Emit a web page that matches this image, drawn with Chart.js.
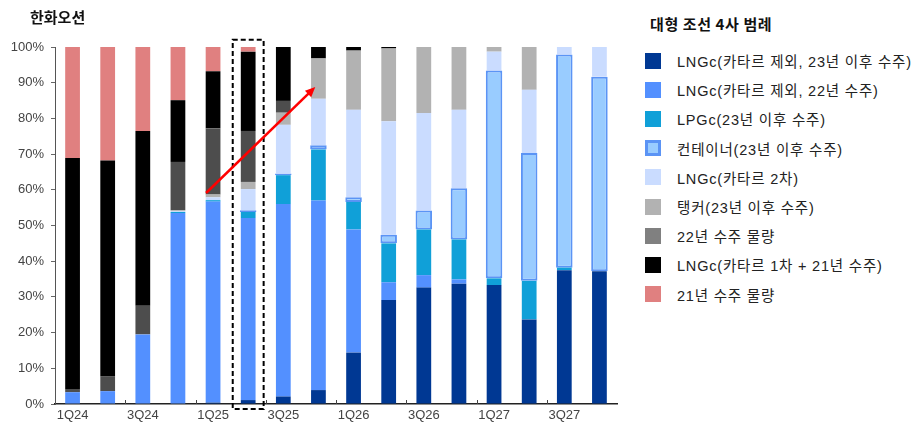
<!DOCTYPE html>
<html>
<head>
<meta charset="utf-8">
<script src="https://cdn.jsdelivr.net/npm/chart.js@4.4.1/dist/chart.umd.min.js"></script>
<style>
  html, body { margin: 0; padding: 0; background: #fff; }
  #wrap { position: relative; width: 921px; height: 430px; overflow: hidden;
          font-family: "Liberation Sans", "Noto Sans CJK KR", Arial, sans-serif; }
  #cv { position: absolute; left: 0; top: 0; }
  #title { position: absolute; left: 30px; top: 6px; font-size: 15px; font-weight: bold; color: #111;
           font-family: "Noto Sans CJK KR", sans-serif; }
  #legend { position: absolute; left: 645px; top: 12px; }
  #legend .lt { font-size: 15px; font-weight: bold; color: #111; margin-left: 5px; height: 24px; line-height: 24px;
                letter-spacing: 0.6px; font-family: "Noto Sans CJK KR", sans-serif; margin-bottom: 10px; }
  #legend .it { height: 29.2px; display: flex; align-items: center; font-size: 14.5px; color: #222;
                letter-spacing: 0.8px; white-space: nowrap;
                font-family: "Liberation Sans", "Noto Sans CJK KR", sans-serif; }
  #legend .sw { width: 16px; height: 16px; box-sizing: border-box; margin-right: 16px; flex: none; }
</style>
</head>
<body>
<div id="wrap">
  <canvas id="cv" width="621" height="430"></canvas>
  <div id="title">한화오션</div>
  <div id="legend"></div>
</div>
<script>
const quarters = ["1Q24","2Q24","3Q24","4Q24","1Q25","2Q25","3Q25","4Q25","1Q26","2Q26","3Q26","4Q26","1Q27","2Q27","3Q27","4Q27"];
const yTicks = [0,10,20,30,40,50,60,70,80,90,100];

const lng23     = [0,   0,   0,   0,   0.4, 1.1, 2.1, 3.9, 14.4, 29.1, 32.6, 33.7, 33.3, 23.7, 37.5, 37.2];
const lng22     = [3.3, 3.6, 19.5,53.5,56.3,51.0,53.9,53.1,34.5, 5.0,  3.5,  1.2,  0,    0,    0,    0];
const lpg23     = [0,   0,   0,   0.3, 0.4, 1.7, 8.1, 14.3,7.7, 10.9, 12.8, 11.2, 1.9,  10.8, 0.7,  0];
const container = [0,   0,   0,   0,   0,   0.5, 0.5, 1.2, 1.3,  2.4,  5.3,  14.3, 58.2, 35.8, 59.7, 54.5];
const qatar2    = [0,   0,   0,   0.2, 0.8, 5.9, 13.6,13.0,24.5, 31.8, 27.3, 22.0, 5.3,  17.7, 2.1,  8.3];
const tanker    = [0,   0,   0,   0.3, 0.8, 2.0, 3.4, 11.3,16.6, 20.4, 18.5, 17.6, 1.3,  12.0, 0,    0];
const orders22  = [0.9, 4.2, 8.0, 13.5,18.5,14.3,3.3, 0,   0,    0,    0,    0,    0,    0,    0,    0];
const qatar1    = [64.7,60.4,49.0,17.3,16.0,22.2,15.1,3.2, 1.0,  0.4,  0,    0,    0,    0,    0,    0];
const orders21  = [31.1,31.8,23.5,14.9,6.8, 1.3, 0,   0,   0,    0,    0,    0,    0,    0,    0,    0];

const seriesNames = [
  "LNGc(카타르 제외, 23년 이후 수주)",
  "LNGc(카타르 제외, 22년 수주)",
  "LPGc(23년 이후 수주)",
  "컨테이너(23년 이후 수주)",
  "LNGc(카타르 2차)",
  "탱커(23년 이후 수주)",
  "22년 수주 물량",
  "LNGc(카타르 1차 + 21년 수주)",
  "21년 수주 물량"
];
const seriesData = [lng23, lng22, lpg23, container, qatar2, tanker, orders22, qatar1, orders21];
const barColors = ["#003893", "#5390ff", "#10a0d8", "#99ccff", "#cadcff", "#b2b2b2", "#4d4d4d", "#000000", "#e08080"];
const legendColors = ["#003893", "#5390ff", "#10a0d8", "#99ccff", "#cadcff", "#b2b2b2", "#808080", "#000000", "#e08080"];

const datasets = seriesNames.map((name, i) => {
  const ds = {
    label: name,
    data: seriesData[i],
    backgroundColor: barColors[i],
    borderWidth: 0,
    barPercentage: 0.42,
    categoryPercentage: 1.0
  };
  if (i === 3) {
    ds.borderColor = "#5b94f5";
    ds.borderWidth = 2;
    ds.borderSkipped = false;
    ds.barPercentage = 0.47;
  }
  return ds;
});

// HTML legend
const leg = document.getElementById('legend');
const lt = document.createElement('div'); lt.className = 'lt'; lt.textContent = '대형 조선 4사 범례'; leg.appendChild(lt);
seriesNames.forEach((n, i) => {
  const it = document.createElement('div'); it.className = 'it';
  const sw = document.createElement('div'); sw.className = 'sw';
  sw.style.background = legendColors[i];
  if (i === 3) sw.style.border = '3px solid #5b94f5';
  const tx = document.createElement('span'); tx.textContent = n;
  it.appendChild(sw); it.appendChild(tx); leg.appendChild(it);
});

const annot = {
  id: 'annot',
  afterDraw(chart) {
    const x = chart.scales.x, y = chart.scales.y, ctx = chart.ctx;
    const cw = x.getPixelForValue(1) - x.getPixelForValue(0);
    ctx.save();
    // inward tick marks on x axis every two quarters
    ctx.strokeStyle = '#444'; ctx.lineWidth = 1;
    for (let i = 2; i < quarters.length; i += 2) {
      const px = Math.round(x.getPixelForValue(i) - cw / 2) + 0.5;
      ctx.beginPath(); ctx.moveTo(px, y.bottom); ctx.lineTo(px, y.bottom - 4); ctx.stroke();
    }
    // dashed highlight box around 2Q25
    const cx = x.getPixelForValue(5);
    ctx.setLineDash([5, 3]); ctx.lineWidth = 2; ctx.strokeStyle = '#000';
    const yt = y.getPixelForValue(102), yb = y.getPixelForValue(-1.4);
    ctx.strokeRect(cx - cw * 0.44, yt, cw * 0.88, yb - yt);
    ctx.setLineDash([]);
    // red arrow from 1Q25 to 4Q25
    const x1 = x.getPixelForValue(4) - cw * 0.2, y1 = y.getPixelForValue(59.1);
    const x2 = x.getPixelForValue(7) - cw * 0.09, y2 = y.getPixelForValue(88.8);
    const ang = Math.atan2(y2 - y1, x2 - x1);
    const hl = 11;
    ctx.strokeStyle = '#ff0000'; ctx.fillStyle = '#ff0000'; ctx.lineWidth = 2.5;
    ctx.beginPath(); ctx.moveTo(x1, y1);
    ctx.lineTo(x2 - hl * 0.8 * Math.cos(ang), y2 - hl * 0.8 * Math.sin(ang)); ctx.stroke();
    ctx.beginPath(); ctx.moveTo(x2, y2);
    ctx.lineTo(x2 - hl * Math.cos(ang - 0.42), y2 - hl * Math.sin(ang - 0.42));
    ctx.lineTo(x2 - hl * Math.cos(ang + 0.42), y2 - hl * Math.sin(ang + 0.42));
    ctx.closePath(); ctx.fill();
    ctx.restore();
  }
};

new Chart(document.getElementById('cv'), {
  type: 'bar',
  data: { labels: quarters, datasets },
  options: {
    responsive: false,
    animation: false,
    layout: { padding: { top: 47, right: 4, left: 0, bottom: 0 } },
    plugins: { legend: { display: false }, tooltip: { enabled: false } },
    scales: {
      x: {
        stacked: true,
        grid: { display: false, drawTicks: false },
        border: { display: true, color: '#222', width: 1.5 },
        ticks: {
          autoSkip: false, maxRotation: 0, padding: 4,
          color: '#444', font: { family: '"Liberation Sans", Arial, sans-serif', size: 13 },
          callback: (v, i) => (i % 2 === 0 ? quarters[i] : '')
        },
        afterFit: (s) => { s.height = 26; }
      },
      y: {
        stacked: true, min: 0, max: 100,
        afterBuildTicks: (s) => { s.ticks = yTicks.map(v => ({ value: v })); },
        grid: { drawOnChartArea: false, drawTicks: true, tickLength: 4, color: '#666' },
        border: { display: true, color: '#555', width: 1 },
        ticks: {
          padding: 7, color: '#444', font: { family: '"Liberation Sans", Arial, sans-serif', size: 13 },
          callback: (v) => v + '%'
        },
        afterFit: (s) => { s.width = 55; }
      }
    }
  },
  plugins: [annot]
});
</script>
</body>
</html>
